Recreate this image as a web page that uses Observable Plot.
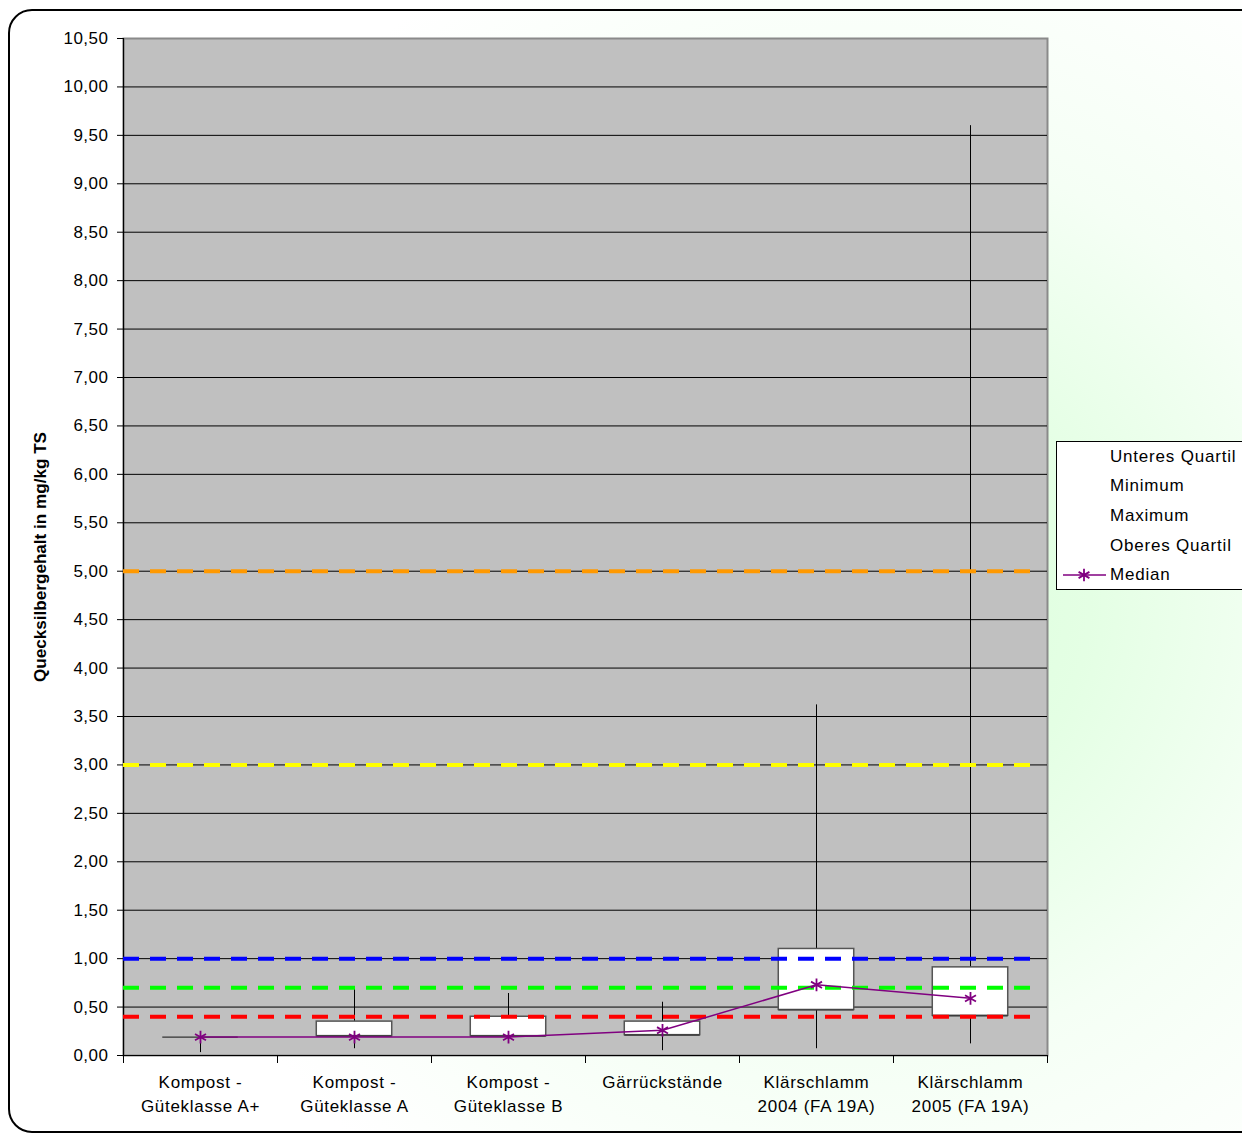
<!DOCTYPE html>
<html>
<head>
<meta charset="utf-8">
<script src="https://cdn.jsdelivr.net/npm/d3@7"></script>
<script src="https://cdn.jsdelivr.net/npm/@observablehq/plot@0.6"></script>
<style>
  html, body { margin: 0; padding: 0; }
  body { width: 1242px; height: 1133px; overflow: hidden; position: relative;
         font-family: "Liberation Sans", Arial, sans-serif;
         background: radial-gradient(circle at 860px 600px, #DAFFDA 0px, #E4FFE4 230px, #F5FFF5 460px, #FFFFFF 740px); }
  #border { position: absolute; left: 8px; top: 9px; width: 1260px; height: 1124px;
            border: 2px solid #000; border-radius: 24px; box-sizing: border-box; }
  #chart { position: absolute; left: 0; top: 0; }
  #legend { position: absolute; left: 1056px; top: 441px; }
</style>
</head>
<body>
<div id="border"></div>
<div id="chart"></div>
<div id="legend"></div>
<script>
// ---- data ----
const categories = [
  "Kompost -\nGüteklasse A+",
  "Kompost -\nGüteklasse A",
  "Kompost -\nGüteklasse B",
  "Gärrückstände",
  "Klärschlamm\n2004 (FA 19A)",
  "Klärschlamm\n2005 (FA 19A)"
];
const lowerQuartile = [0.19, 0.20, 0.20, 0.21, 0.47, 0.41];
const minimum       = [0.03, 0.07, 0.19, 0.05, 0.07, 0.12];
const maximum       = [0.19, 0.69, 0.64, 0.55, 3.62, 9.60];
const upperQuartile = [0.19, 0.35, 0.40, 0.35, 1.10, 0.91];
const median        = [0.19, 0.19, 0.19, 0.26, 0.73, 0.59];

const refValues = [5.0, 3.0, 1.0, 0.7, 0.4];
const refColors = ["#FF9900", "#FFFF00", "#0000FF", "#00FF00", "#FF0000"];

const yTicks = d3.range(0, 10.51, 0.5);
const yLabel = "Quecksilbergehalt in mg/kg TS";
const legendItems = ["Unteres Quartil", "Minimum", "Maximum", "Oberes Quartil", "Median"];

// ---- table ----
const rows = categories.map((c, i) => ({
  i, c, cx: i + 0.5,
  x1: i + 0.255, x2: i + 0.745,
  q1: lowerQuartile[i], q3: upperQuartile[i],
  min: minimum[i], max: maximum[i], med: median[i]
}));
const refs = refValues.map((v, i) => ({v, color: refColors[i]}));
const fmt = d => d.toFixed(2).replace(".", ",");

const chart = Plot.plot({
  width: 1242, height: 1133,
  marginLeft: 123, marginRight: 195, marginTop: 38, marginBottom: 78,
  x: {domain: [0, 6], axis: null},
  y: {domain: [0, 10.5], axis: null},
  color: {type: "identity"},
  style: {background: "transparent", fontFamily: "'Liberation Sans', Arial, sans-serif", fontSize: "17px", color: "#000", overflow: "visible"},
  marks: [
    Plot.frame({fill: "#C0C0C0", stroke: "#8A8A8A", strokeWidth: 2}),
    Plot.ruleY(yTicks.filter(d => d > 0 && d < 10.5), {stroke: "#000", strokeWidth: 1}),
    Plot.ruleX([0], {stroke: "#000", strokeWidth: 1.2}),
    Plot.ruleY([0], {stroke: "#000", strokeWidth: 1.2}),
    Plot.axisY({ticks: yTicks, tickFormat: fmt, tickSize: 6, tickPadding: 9, fontSize: 17, label: null, stroke: "#000"}),
    Plot.axisX({ticks: d3.range(0, 7), tickFormat: () => "", tickSize: 8, label: null, stroke: "#000"}),
    Plot.text(rows, {x: "cx", text: "c", frameAnchor: "bottom", dy: 15, lineAnchor: "top", lineHeight: 1.42, fontSize: 17, fill: "#000"}),
    // whiskers
    Plot.ruleX(rows, {x: "cx", y1: "min", y2: "max", stroke: "#000", strokeWidth: 1}),
    // boxes
    Plot.rect(rows, {x1: "x1", x2: "x2", y1: "q1", y2: "q3", fill: "#FFFFFF", stroke: "#555", strokeWidth: 1.5}),
    Plot.ruleY(rows, {y: "q1", x1: "x1", x2: "x2", stroke: "#333", strokeWidth: 1.2}),
    // reference lines
    Plot.ruleY(refs, {y: "v", x1: 0, x2: 5.92, stroke: "color", strokeWidth: 4, strokeDasharray: "16,11"}),
    // median
    Plot.line(rows, {x: "cx", y: "med", stroke: "#800080", strokeWidth: 1.5}),
    Plot.dot(rows, {x: "cx", y: "med", symbol: "asterisk", r: 6, stroke: "#800080", strokeWidth: 1.8})
  ]
});
document.getElementById("chart").appendChild(chart);

// wider letter spacing for category labels and tick labels, like the original
d3.select(chart).selectAll("g[aria-label='text'] text").attr("letter-spacing", "0.7px");
d3.select(chart).selectAll("g[aria-label='y-axis tick label'] text").attr("letter-spacing", "0.5px");

// y-axis title
d3.select(chart).append("text")
  .attr("transform", "translate(46,557) rotate(-90)")
  .attr("text-anchor", "middle")
  .attr("font-family", "'Liberation Sans', Arial, sans-serif")
  .attr("font-weight", "bold").attr("font-size", 17)
  .attr("textLength", 250).attr("lengthAdjust", "spacingAndGlyphs")
  .attr("fill", "#000")
  .text(yLabel);

// ---- legend ----
const lg = d3.select("#legend").append("svg").attr("width", 200).attr("height", 150);
lg.append("rect").attr("x", 0.5).attr("y", 0.5).attr("width", 198).attr("height", 148)
  .attr("fill", "#fff").attr("stroke", "#000").attr("stroke-width", 1);
const ys = [15, 44, 74, 104, 133];
legendItems.forEach((t, i) => {
  lg.append("text").attr("x", 54).attr("y", ys[i]).attr("dy", "0.35em")
    .attr("font-family", "'Liberation Sans', Arial, sans-serif").attr("font-size", 17)
    .attr("letter-spacing", "0.8px").attr("fill", "#000").text(t);
});
lg.append("line").attr("x1", 7).attr("x2", 50).attr("y1", 134).attr("y2", 134)
  .attr("stroke", "#800080").attr("stroke-width", 1.5);
const sym = d3.symbol(d3.symbolAsterisk, 110)();
lg.append("path").attr("d", sym).attr("transform", "translate(28,134)")
  .attr("fill", "none").attr("stroke", "#800080").attr("stroke-width", 1.8);
</script>
</body>
</html>
